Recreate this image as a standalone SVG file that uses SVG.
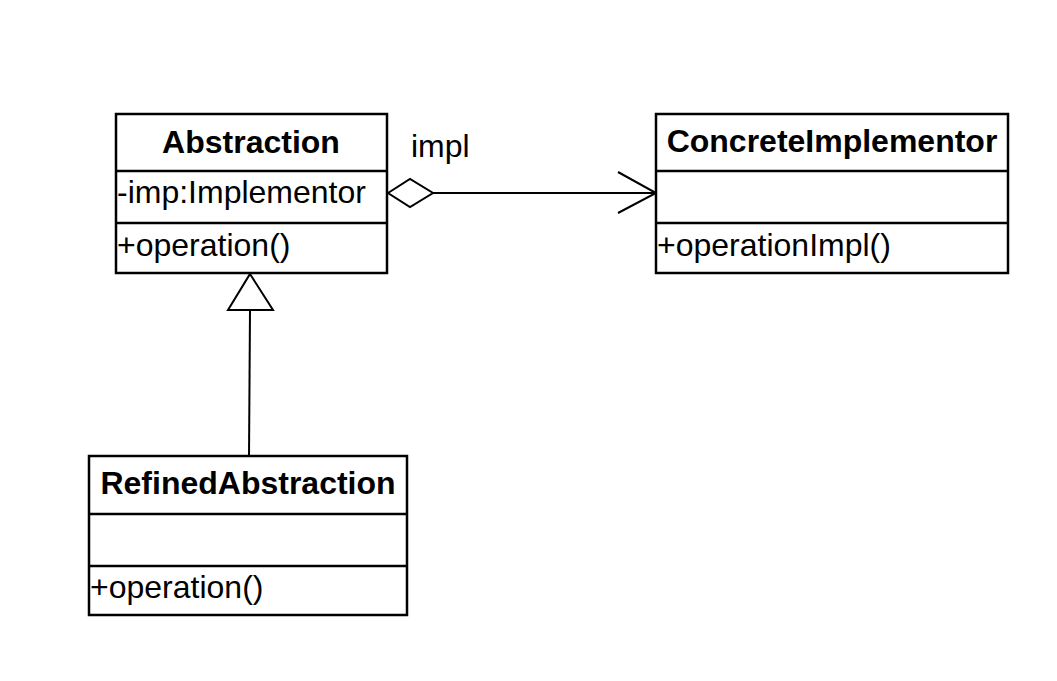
<svg xmlns="http://www.w3.org/2000/svg" width="1057" height="681" viewBox="0 0 1057 681">
<style>
.box{fill:#fff;stroke:#000;stroke-width:2.5}
.div{stroke:#000;stroke-width:2.5}
.t{font-family:"Liberation Sans",Arial,sans-serif;font-size:32px;fill:#000}
.b{font-weight:bold;text-anchor:middle}
.c{fill:none;stroke:#000;stroke-width:2}
</style>
<rect width="1057" height="681" fill="#fff"/>
<g id="connectors">
<line class="c" x1="433" y1="193" x2="655" y2="193"/>
<polygon class="c" fill="#fff" points="388,193 410,179 433,193 410,207"/>
<polyline class="c" points="618,172 656,193 618,213"/>
<line class="c" x1="250" y1="310" x2="249" y2="456"/>
<polygon class="c" fill="#fff" points="250,274 273,310 228,310"/>
</g>
<g id="abstraction">
<rect class="box" x="116" y="114" width="271" height="159"/>
<line class="div" x1="116" y1="171" x2="387" y2="171"/>
<line class="div" x1="116" y1="223" x2="387" y2="223"/>
<text class="t b" x="251" y="153">Abstraction</text>
<text class="t" x="117" y="203">-imp:Implementor</text>
<text class="t" x="117" y="256">+operation()</text>
</g>
<g id="impl-label">
<text class="t" x="411" y="157">impl</text>
</g>
<g id="concrete">
<rect class="box" x="656" y="114" width="352" height="159"/>
<line class="div" x1="656" y1="171" x2="1008" y2="171"/>
<line class="div" x1="656" y1="223" x2="1008" y2="223"/>
<text class="t b" x="832" y="152">ConcreteImplementor</text>
<text class="t" x="657" y="256">+operationImpl()</text>
</g>
<g id="refined">
<rect class="box" x="89" y="456" width="318" height="159"/>
<line class="div" x1="89" y1="514" x2="407" y2="514"/>
<line class="div" x1="89" y1="566" x2="407" y2="566"/>
<text class="t b" x="248" y="494">RefinedAbstraction</text>
<text class="t" x="90" y="598">+operation()</text>
</g>
</svg>
